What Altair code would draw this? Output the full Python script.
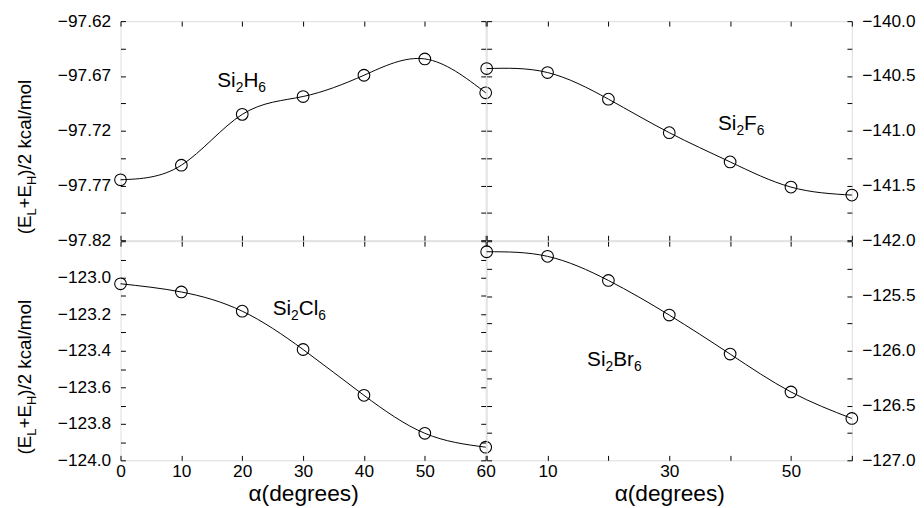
import altair as alt
import pandas as pd

# ---------------- data ----------------
ANGLES = [0, 10, 20, 30, 40, 50, 60]
SI2H6 = [-97.7648, -97.7515, -97.7051, -97.6888, -97.6694, -97.6545, -97.6854]
SI2F6 = [-140.433, -140.469, -140.712, -141.018, -141.285, -141.515, -141.588]
SI2CL6 = [-123.033, -123.078, -123.183, -123.393, -123.644, -123.852, -123.928]
SI2BR6 = [-125.096, -125.138, -125.358, -125.674, -126.030, -126.376, -126.618]

Y_DOMAINS = {
    "H": [-97.82, -97.62],
    "F": [-142.0, -140.0],
    "Cl": [-124.0, -122.8],
    "Br": [-127.0, -125.0],
}
Y_STEPS = {"H": 0.025, "F": 0.25, "Cl": 0.1, "Br": 0.25}
Y_FORMATS = {"H": ".2f", "F": ".1f", "Cl": ".1f", "Br": ".1f"}

NAMES = {
    "H": [("Si", False), ("2", True), ("H", False), ("6", True)],
    "F": [("Si", False), ("2", True), ("F", False), ("6", True)],
    "Cl": [("Si", False), ("2", True), ("Cl", False), ("6", True)],
    "Br": [("Si", False), ("2", True), ("Br", False), ("6", True)],
}
NAME_AT = {"H": (15.9, -97.6803), "F": (38.0, -140.994),
           "Cl": (25.0, -123.205), "Br": (16.5, -126.141)}

Y_TITLE = [("(E", False), ("L", True), ("+E", False), ("H", True), (")/2 kcal/mol", False)]
X_TITLE = "α(degrees)"

# ---------------- styling ----------------
FONT = "Liberation Sans"
MAIN, SUB, SUBSHIFT = 21, 14, 5
TMAIN, TSUB, TSHIFT = 19, 13, 5
W, H = 370, 222
TICK = 5

GW = {'(': 0.333, ')': 0.333, 'E': 0.667, 'L': 0.556, 'H': 0.722, '+': 0.584,
      '/': 0.278, '2': 0.556, ' ': 0.278, 'k': 0.5, 'c': 0.5, 'a': 0.556,
      'l': 0.222, 'm': 0.833, 'o': 0.556, 'S': 0.667, 'i': 0.222, 'F': 0.611,
      'C': 0.722, 'B': 0.667, 'r': 0.333, '6': 0.556}


def text_width(s, size):
    return sum(GW.get(ch, 0.556) for ch in s) * size


def tick_values(dom, step):
    n = int(round((dom[1] - dom[0]) / step))
    return [round(dom[0] + i * step, 4) for i in range(n + 1)]


common = dict(domain=False, grid=False, ticks=True, tickSize=TICK, offset=-TICK,
              tickColor="black", tickWidth=1, labelOverlap=False, labelFlush=False,
              labelFont=FONT, labelFontSize=17.5, labelColor="black", minExtent=0)


def panel(key, values, ylabel_side, hide_top, xlabel_mode, with_titles):
    df = pd.DataFrame({"a": ANGLES, "e": values})
    dom = Y_DOMAINS[key]
    step = Y_STEPS[key]
    yvals = tick_values(dom, step)
    cond = f"round((datum.value - ({dom[0]}))/{step}) % 2 == 0"
    if hide_top:
        cond += f" && datum.value < {dom[1] - step / 2}"
    yexpr = f"{cond} ? format(datum.value, '{Y_FORMATS[key]}') : ''"
    other = "right" if ylabel_side == "left" else "left"

    xs = alt.Scale(domain=[0, 60], nice=False, zero=False)
    ys = alt.Scale(domain=dom, nice=False, zero=False)

    y_lab = alt.Axis(orient=ylabel_side, values=yvals, labelExpr=yexpr,
                     labelPadding=10, title=None, **common)
    y_plain = alt.Axis(orient=other, values=yvals, labels=False, title=None, **common)

    if xlabel_mode == "none":
        x_bot = alt.Axis(orient="bottom", values=ANGLES, labels=False, title=None, **common)
    else:
        xexpr = "datum.label" if xlabel_mode == "all" else "datum.value % 20 == 10 ? datum.label : ''"
        x_bot = alt.Axis(orient="bottom", values=ANGLES, labelExpr=xexpr, labelPadding=2,
                         title=X_TITLE, titleFont=FONT, titleFontSize=23,
                         titleFontWeight="normal", titleColor="black", titlePadding=3,
                         **common)
    x_top = alt.Axis(orient="top", values=ANGLES, labels=False, title=None, **common)

    line = alt.Chart(df).mark_line(interpolate="natural", color="black", strokeWidth=1).encode(
        x=alt.X("a:Q", scale=xs, axis=x_bot),
        y=alt.Y("e:Q", scale=ys, axis=y_lab),
    )
    pts = alt.Chart(df).mark_point(shape="circle", filled=False, color="black", size=140,
                                   strokeWidth=1.1, opacity=1).encode(
        x=alt.X("a:Q", scale=xs, axis=x_top),
        y=alt.Y("e:Q", scale=ys, axis=y_plain),
    )
    layers = [line, pts]

    # compound label (Si2X6) placed in data coordinates
    lx, ly = NAME_AT[key]
    off = 0.0
    for txt, sub in NAMES[key]:
        fs = SUB if sub else MAIN
        d = pd.DataFrame({"t": [txt], "x": [lx], "y": [ly]})
        layers.append(
            alt.Chart(d).mark_text(align="left", baseline="alphabetic", font=FONT,
                                   fontSize=fs, color="black", dx=off,
                                   dy=SUBSHIFT if sub else 0).encode(
                x=alt.X("x:Q", scale=xs, axis=None),
                y=alt.Y("y:Q", scale=ys, axis=None),
                text="t:N",
            )
        )
        off += text_width(txt, fs)

    if with_titles:
        off = 0.0
        for txt, sub in Y_TITLE:
            fs = TSUB if sub else TMAIN
            d = pd.DataFrame({"t": [txt]})
            layers.append(
                alt.Chart(d).mark_text(align="left", baseline="alphabetic", font=FONT,
                                       fontSize=fs, color="black", angle=270, dx=off,
                                       dy=TSHIFT if sub else 0).encode(
                    x=alt.value(-91), y=alt.value(H - 6), text="t:N",
                )
            )
            off += text_width(txt, fs)

    return alt.layer(*layers).resolve_axis(x="independent", y="independent").properties(
        width=W, height=H)


tl = panel("H", SI2H6, "left", False, "none", True)
tr = panel("F", SI2F6, "right", False, "none", False)
bl = panel("Cl", SI2CL6, "left", True, "all", True)
br = panel("Br", SI2BR6, "right", True, "odd", False)

chart = alt.concat(tl, tr, bl, br, columns=2, spacing=1, bounds="flush").resolve_scale(
    x="independent", y="independent"
).properties(
    padding={"left": 7, "top": 0, "right": 0, "bottom": 0}
).configure_view(stroke="black", strokeWidth=1.2).configure(background="white")

chart.save("out.html", embed_options={"renderer": "svg", "actions": False})
